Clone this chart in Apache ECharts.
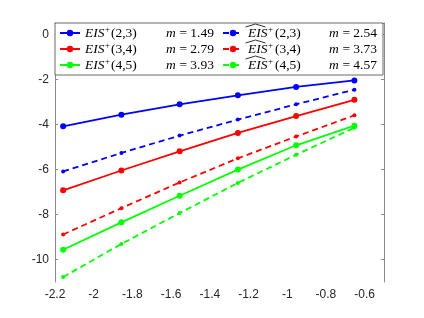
<!DOCTYPE html>
<html><head><meta charset="utf-8">
<script src="https://cdn.jsdelivr.net/npm/echarts@6/dist/echarts.min.js"></script>
<style>html,body{margin:0;padding:0;background:#fff}#c{width:424px;height:318px}</style>
</head><body><div id="c"></div>
<script>
const xValues = [-2.158, -1.857, -1.556, -1.255, -0.954, -0.653];
const eis23 = [-4.09, -3.57, -3.11, -2.71, -2.34, -2.05];
const eis34 = [-6.93, -6.05, -5.20, -4.38, -3.63, -2.91];
const eis45 = [-9.57, -8.35, -7.17, -6.01, -4.93, -4.06];
const eisHat23 = [-6.09, -5.27, -4.50, -3.79, -3.11, -2.46];
const eisHat34 = [-8.89, -7.72, -6.58, -5.51, -4.54, -3.60];
const eisHat45 = [-10.78, -9.31, -7.94, -6.60, -5.35, -4.15];
const pairs = ['(2,3)', '(3,4)', '(4,5)'];
const slopes = ['1.49', '2.79', '3.93'];
const slopesHat = ['2.54', '3.73', '4.57'];
const yTicks = [-10, -8, -6, -4, -2, 0];
const colors = ['#0000ff', '#ff0000', '#00ff00'];

const solidData = [eis23, eis34, eis45];
const hatData = [eisHat23, eisHat34, eisHat45];

function pts(ys) { return ys.map((y, i) => [xValues[i], y]); }

const series = [];
for (let i = 0; i < 3; i++) {
  series.push({
    name: 'S' + i, type: 'line', data: pts(solidData[i]), xAxisIndex: 0, yAxisIndex: 0,
    symbol: 'circle', symbolSize: 6, color: colors[i],
    lineStyle: { width: 1.8, color: colors[i] }, itemStyle: { color: colors[i] },
    emphasis: { disabled: true }, animation: false, z: 3
  });
}
for (let i = 0; i < 3; i++) {
  series.push({
    name: 'H' + i, type: 'line', data: pts(hatData[i]), xAxisIndex: 0, yAxisIndex: 0,
    symbol: 'circle', symbolSize: 4, color: colors[i],
    lineStyle: { width: 1.8, color: colors[i], type: [6, 4] }, itemStyle: { color: colors[i] },
    emphasis: { disabled: true }, animation: false, z: 3
  });
}

const serif = 'Liberation Serif';
const txt = '#000';
const fs = 13.5;
const rich = {
  e: { fontFamily: serif, fontStyle: 'italic', fontSize: fs, color: txt, width: 20, lineHeight: 16 },
  p: { fontFamily: serif, fontSize: 9, color: txt, width: 6, lineHeight: 16, verticalAlign: 'top' },
  ph: { fontFamily: serif, fontSize: 9, color: txt, width: 7, lineHeight: 16, verticalAlign: 'top' },
  n: { fontFamily: serif, fontSize: fs, color: txt, width: 55, lineHeight: 16 },
  nh: { fontFamily: serif, fontSize: fs, color: txt, width: 54, lineHeight: 16 },
  mi: { fontFamily: serif, fontStyle: 'italic', fontSize: fs, color: txt, width: 10, lineHeight: 16 },
  mv: { fontFamily: serif, fontSize: fs, color: txt, width: 46, lineHeight: 16 },
  mvh: { fontFamily: serif, fontSize: fs, color: txt, width: 40, lineHeight: 16 }
};

const axisColor = '#8a8a8a';
const labelStyle = { color: '#262626', fontFamily: 'Liberation Sans', fontSize: 12 };

const hatRows = [33, 49, 65];
const hats = hatRows.map(cy => ({
  type: 'polyline', z: 100,
  shape: { points: [[245.5, cy - 6], [255.5, cy - 9], [265.5, cy - 6]] },
  style: { stroke: '#000', lineWidth: 0.8, fill: null }
}));

const chart = echarts.init(document.getElementById('c'), null, { renderer: 'canvas' });
chart.setOption({
  animation: false,
  backgroundColor: '#fff',
  grid: { left: 55, right: 40, top: 23, bottom: 36, containLabel: false },
  xAxis: [
    { type: 'value', min: -2.2, max: -0.5, interval: 0.2, position: 'bottom',
      axisLine: { show: true, lineStyle: { color: axisColor, width: 1 } },
      axisTick: { show: true, inside: true, length: 3, lineStyle: { color: axisColor } },
      axisLabel: Object.assign({ margin: 7, showMaxLabel: false }, labelStyle),
      splitLine: { show: false } },
    { type: 'value', min: -2.2, max: -0.5, interval: 0.2, position: 'top',
      axisLine: { show: true, onZero: false, lineStyle: { color: axisColor, width: 1 } },
      axisTick: { show: true, inside: true, length: 3, lineStyle: { color: axisColor } },
      axisLabel: { show: false }, splitLine: { show: false } }
  ],
  yAxis: [
    { type: 'value', min: -11, max: 0.5, position: 'left',
      axisLine: { show: true, onZero: false, lineStyle: { color: axisColor, width: 1 } },
      axisTick: { show: true, inside: true, length: 3, customValues: yTicks, lineStyle: { color: axisColor } },
      axisLabel: Object.assign({ margin: 6, customValues: yTicks }, labelStyle),
      splitLine: { show: false } },
    { type: 'value', min: -11, max: 0.5, position: 'right',
      axisLine: { show: true, onZero: false, lineStyle: { color: axisColor, width: 1 } },
      axisTick: { show: true, inside: true, length: 3, customValues: yTicks, lineStyle: { color: axisColor } },
      axisLabel: { show: false }, splitLine: { show: false } }
  ],
  legend: {
    orient: 'vertical', left: 55, top: 23, height: 50,
    itemGap: 0, itemWidth: 20, itemHeight: 8,
    padding: [2, 4, 2, 4],
    backgroundColor: '#fff', borderColor: '#444', borderWidth: 0.8, borderRadius: 0,
    selectedMode: false,
    data: ['S0', 'S1', 'S2', 'H0', 'H1', 'H2'],
    textStyle: { fontFamily: serif, fontSize: fs, color: txt, lineHeight: 16, rich: rich },
    formatter: function (name) {
      const hat = name[0] === 'H';
      const i = +name[1];
      if (hat) return '{e|EIS}{ph|+}{nh|' + pairs[i] + '}{mi|m}{mvh| = ' + slopesHat[i] + '}';
      return '{e|EIS}{p|+}{n|' + pairs[i] + '}{mi|m}{mv| = ' + slopes[i] + '}';
    }
  },
  graphic: hats,
  series: series
});
</script>
</body></html>
